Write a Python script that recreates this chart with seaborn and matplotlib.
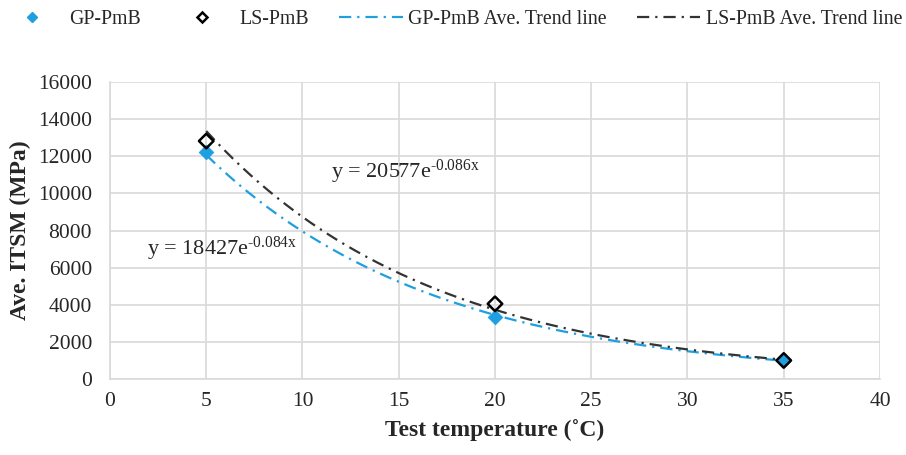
import numpy as np
import pandas as pd
import matplotlib
matplotlib.use("Agg")
import matplotlib.pyplot as plt
from matplotlib.lines import Line2D
import seaborn as sns

# data
temps = [5, 20, 35]
gp_itsm = [12230, 3360, 1000]
ls_itsm = [12820, 4050, 1000]
gp_label = "y = 18427e$^{\\text{-0.084x}}$"
ls_label = "y = 20577e$^{\\text{-0.086x}}$"
x_ticks = [0, 5, 10, 15, 20, 25, 30, 35, 40]
y_ticks = [0, 2000, 4000, 6000, 8000, 10000, 12000, 14000, 16000]

BLUE = "#1E9FE0"
DARK = "#333333"

sns.set_theme(style="whitegrid")
plt.rcParams["font.family"] = ["Liberation Serif", "DejaVu Serif"]
plt.rcParams["mathtext.fontset"] = "custom"
plt.rcParams["mathtext.rm"] = "Liberation Serif"
plt.rcParams["mathtext.it"] = "Liberation Serif:italic"

df = pd.DataFrame({"temp": temps, "GP": gp_itsm, "LS": ls_itsm})


def exp_trend(x, y):
    """Excel-style exponential trend line: least squares on log(y)."""
    b, ln_a = np.polyfit(np.asarray(x, float), np.log(y), 1)
    xs = np.linspace(min(x), max(x), 200)
    return xs, np.exp(ln_a) * np.exp(b * xs)


fig, ax = plt.subplots(figsize=(9.06, 4.55), dpi=100)
fig.subplots_adjust(left=0.1214, right=0.9713, top=0.8198, bottom=0.167)

dash = (0, (5.5, 2.7, 1.0, 2.7))
gx, gy = exp_trend(temps, gp_itsm)
lx, ly = exp_trend(temps, ls_itsm)
sns.lineplot(x=gx, y=gy, ax=ax, color=BLUE, lw=1.6, linestyle=dash,
             legend=False, zorder=2)
sns.lineplot(x=lx, y=ly, ax=ax, color=DARK, lw=1.6, linestyle=dash,
             legend=False, zorder=2)

sns.scatterplot(data=df, x="temp", y="GP", ax=ax, marker="D", s=55,
                color=BLUE, edgecolor=BLUE, legend=False, zorder=3)
sns.scatterplot(data=df, x="temp", y="LS", ax=ax, marker="D", s=55,
                facecolor="none", edgecolor="black", linewidth=1.8,
                legend=False, zorder=4)

ax.text(11.5, 11150, ls_label, fontsize=16, va="center", ha="left")
ax.text(1.9, 7000, gp_label, fontsize=16, va="center", ha="left")

ax.set_xlim(0, 40)
ax.set_ylim(0, 16000)
ax.set_xticks(x_ticks)
ax.set_yticks(y_ticks)
ax.tick_params(labelsize=15.5, length=0)
ax.tick_params(axis="y", pad=13)
ax.tick_params(axis="x", pad=9)
ax.grid(True, color="#d9d9d9", lw=1.2)
for side in ["top", "right"]:
    ax.spines[side].set_visible(False)
for side in ["left", "bottom"]:
    ax.spines[side].set_color("#d9d9d9")
    ax.spines[side].set_linewidth(1.2)
ax.set_xlabel("Test temperature (˚C)", fontsize=17, fontweight="bold", labelpad=6)
ax.set_ylabel("Ave. ITSM (MPa)", fontsize=17, fontweight="bold", labelpad=5)

handles = [
    Line2D([], [], ls="none", marker="D", ms=5.5, color=BLUE),
    Line2D([], [], ls="none", marker="D", ms=5.5, mfc="white", mec="black", mew=1.8),
    Line2D([], [], color=BLUE, lw=1.6, linestyle=dash),
    Line2D([], [], color=DARK, lw=1.6, linestyle=dash),
]
labels = ["GP-PmB", "LS-PmB", "GP-PmB Ave. Trend line", "LS-PmB Ave. Trend line"]
fig.legend(handles, labels, ncol=4, frameon=False, fontsize=14.3,
           loc="center left", bbox_to_anchor=(0.0, 0.958),
           borderpad=0, borderaxespad=0,
           handlelength=3.2, columnspacing=1.5, handletextpad=0.28)

fig.savefig("out.png", dpi=100)
